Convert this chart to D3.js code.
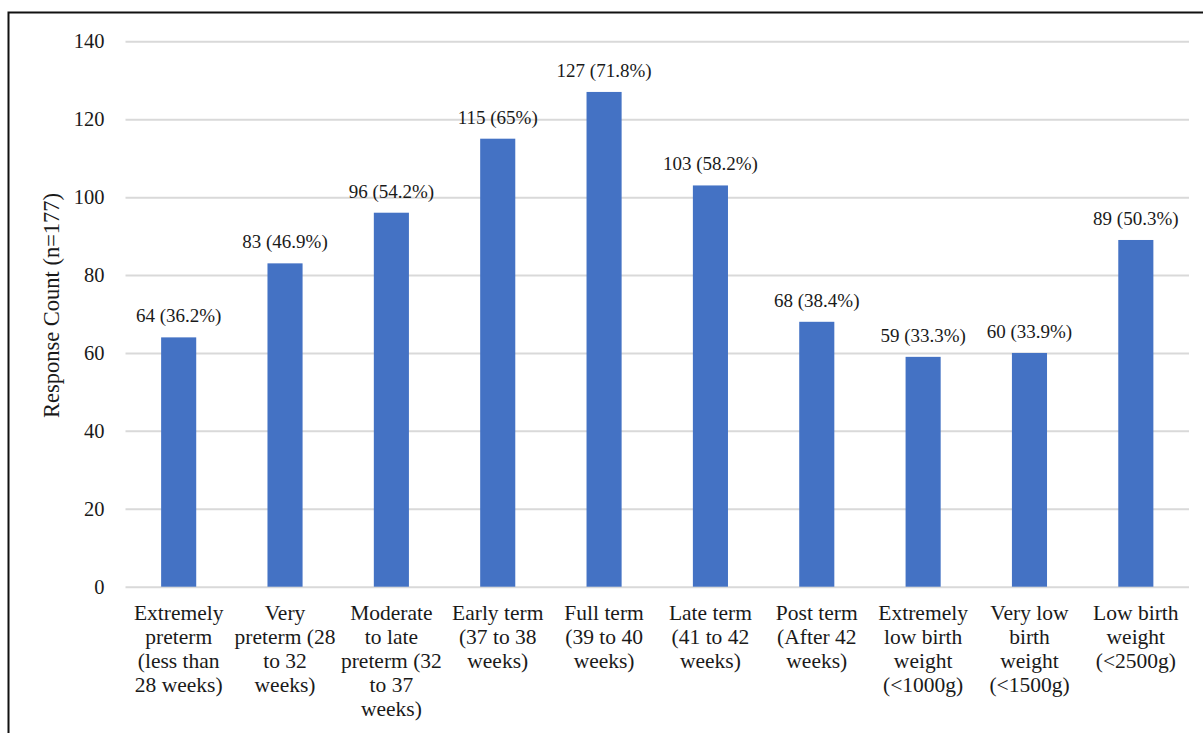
<!DOCTYPE html>
<html>
<head>
<meta charset="utf-8">
<script src="https://cdn.jsdelivr.net/npm/d3@7"></script>
<style>
  html, body { margin: 0; padding: 0; background: #fff; overflow: hidden; }
  svg { display: block; }
  text { font-family: "Liberation Serif", "Times New Roman", serif; fill: #1a1a1a; }
</style>
</head>
<body>
<svg id="chart" width="1203" height="733"></svg>
<script>
// Category names, each split into the lines shown under its bar
const categoryLines = [
  ["Extremely", "preterm", "(less than", "28 weeks)"],
  ["Very", "preterm (28", "to 32", "weeks)"],
  ["Moderate", "to late", "preterm (32", "to 37", "weeks)"],
  ["Early term", "(37 to 38", "weeks)"],
  ["Full term", "(39 to 40", "weeks)"],
  ["Late term", "(41 to 42", "weeks)"],
  ["Post term", "(After 42", "weeks)"],
  ["Extremely", "low birth", "weight", "(<1000g)"],
  ["Very low", "birth", "weight", "(<1500g)"],
  ["Low birth", "weight", "(<2500g)"]
];
const categories = categoryLines.map(l => l.join(" "));
const counts = [64, 83, 96, 115, 127, 103, 68, 59, 60, 89];
const percents = ["36.2", "46.9", "54.2", "65", "71.8", "58.2", "38.4", "33.3", "33.9", "50.3"];
const yTicks = [0, 20, 40, 60, 80, 100, 120, 140];
const yTitle = "Response Count (n=177)";

const FONT = '"Liberation Serif", "Times New Roman", serif';
const svg = d3.select("#chart");

// outer frame
svg.append("rect")
  .attr("x", 8.5).attr("y", 12.5)
  .attr("width", 1400).attr("height", 1000)
  .attr("fill", "none").attr("stroke", "#111").attr("stroke-width", 2);

const plot = { left: 125.5, right: 1189, top: 41.3, bottom: 586.7 };

const x = d3.scaleBand()
  .domain(categories)
  .range([plot.left, plot.right])
  .paddingInner(0.67)
  .paddingOuter(0.335);

const y = d3.scaleLinear()
  .domain([0, 140])
  .range([plot.bottom, plot.top]);

// horizontal gridlines with value labels on the left
const yAxis = d3.axisLeft(y)
  .tickValues(yTicks)
  .tickSize(-(plot.right - plot.left))
  .tickPadding(21);

const gy = svg.append("g")
  .attr("transform", `translate(${plot.left},0)`)
  .call(yAxis);
gy.attr("font-family", FONT);
gy.select(".domain").remove();
gy.selectAll(".tick line").attr("stroke", "#d9d9d9").attr("stroke-width", 2);
gy.selectAll(".tick text")
  .attr("font-size", 20.5)
  .attr("fill", "#1a1a1a")
  .style("font-family", FONT);

// bars
svg.append("g").selectAll("rect")
  .data(counts)
  .join("rect")
  .attr("x", (d, i) => x(categories[i]))
  .attr("y", d => y(d))
  .attr("width", x.bandwidth())
  .attr("height", d => y(0) - y(d))
  .attr("fill", "#4472c4");

// value labels above bars
svg.append("g").selectAll("text")
  .data(counts)
  .join("text")
  .attr("x", (d, i) => x(categories[i]) + x.bandwidth() / 2)
  .attr("y", d => y(d) - 15)
  .attr("text-anchor", "middle")
  .attr("font-size", 19)
  .text((d, i) => `${d} (${percents[i]}%)`);

// category labels, multi-line
const xl = svg.append("g").selectAll("text")
  .data(categoryLines)
  .join("text")
  .attr("text-anchor", "middle")
  .attr("font-size", 21.5)
  .attr("transform", (d, i) => `translate(${x(categories[i]) + x.bandwidth() / 2},620)`);
xl.selectAll("tspan")
  .data(d => d)
  .join("tspan")
  .attr("x", 0)
  .attr("y", (d, j) => j * 24)
  .text(d => d);

// axis title
svg.append("text")
  .attr("transform", "translate(59,305.5) rotate(-90)")
  .attr("text-anchor", "middle")
  .attr("font-size", 22.5)
  .text(yTitle);
</script>
</body>
</html>
